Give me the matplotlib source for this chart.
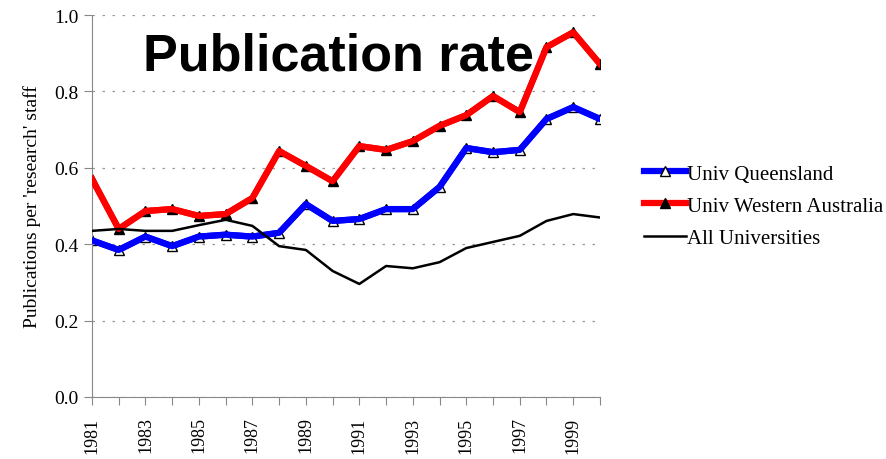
import numpy as np
import matplotlib
matplotlib.use("Agg")
import matplotlib.pyplot as plt

years = list(range(1981, 2001))
uq = [0.41, 0.385, 0.42, 0.395, 0.42, 0.425, 0.42, 0.43, 0.505, 0.461,
      0.466, 0.492, 0.492, 0.55, 0.652, 0.641, 0.647, 0.728, 0.759, 0.728]
uwa = [0.571, 0.44, 0.487, 0.492, 0.474, 0.479, 0.521, 0.644, 0.605, 0.565,
       0.657, 0.647, 0.67, 0.71, 0.738, 0.788, 0.746, 0.916, 0.955, 0.872]
all_unis = [0.435, 0.44, 0.435, 0.435, 0.45, 0.464, 0.448, 0.395, 0.385, 0.33,
            0.296, 0.343, 0.337, 0.353, 0.39, 0.406, 0.422, 0.461, 0.479, 0.47]

serif = "Liberation Serif"

fig = plt.figure(figsize=(8.87, 4.6), dpi=100)
ax = fig.add_axes([0.1037, 0.1348, 0.5727, 0.8302])

# markers sit under the thick lines, like the original
ax.plot(years, uq, color="blue", lw=4.5, marker="^", ms=7, mfc="white",
        mec="black", mew=1, label="Univ Queensland", zorder=2)
ax.plot(years, uwa, color="red", lw=4.5, marker="^", ms=7, mfc="black",
        mec="black", label="Univ Western Australia", zorder=2)
ax.plot(years, uq, color="blue", lw=4.5, zorder=3)
ax.plot(years, uwa, color="red", lw=4.5, zorder=3)
ax.plot(years, all_unis, color="black", lw=1.8, label="All Universities", zorder=4)

ax.set_xlim(1981, 2000)
ax.set_ylim(0, 1.0)
ax.set_yticks(np.arange(0, 1.01, 0.2))
ax.set_yticklabels(["%.1f" % v for v in np.arange(0, 1.01, 0.2)],
                   fontfamily=serif, fontsize=14)
ax.set_xticks(years)
ax.set_xticklabels([str(y) if (y - 1981) % 2 == 0 else "" for y in years],
                   rotation=90, fontfamily=serif, fontsize=13)
ax.tick_params(axis="x", length=6, color="#888888", pad=8)
ax.tick_params(axis="y", length=6, color="#888888")

ax.grid(axis="y", color="#999999", linestyle=(0, (2, 6)), lw=0.9)
for s in ["top", "right"]:
    ax.spines[s].set_visible(False)
for s in ["left", "bottom"]:
    ax.spines[s].set_color("#888888")

ax.set_ylabel("Publications per 'research' staff", fontfamily=serif,
              fontsize=14, labelpad=10)

ax.text(0.485, 0.858, "Publication rate", transform=ax.transAxes, ha="center",
        fontfamily="Liberation Sans", fontweight="bold", fontsize=37.5)

fig.legend(loc="center left", bbox_to_anchor=(0.705, 0.55), frameon=False,
           prop={"family": serif, "size": 15}, handlelength=2.0,
           labelspacing=0.6, handletextpad=0.05)

fig.savefig("out.png", dpi=100)
